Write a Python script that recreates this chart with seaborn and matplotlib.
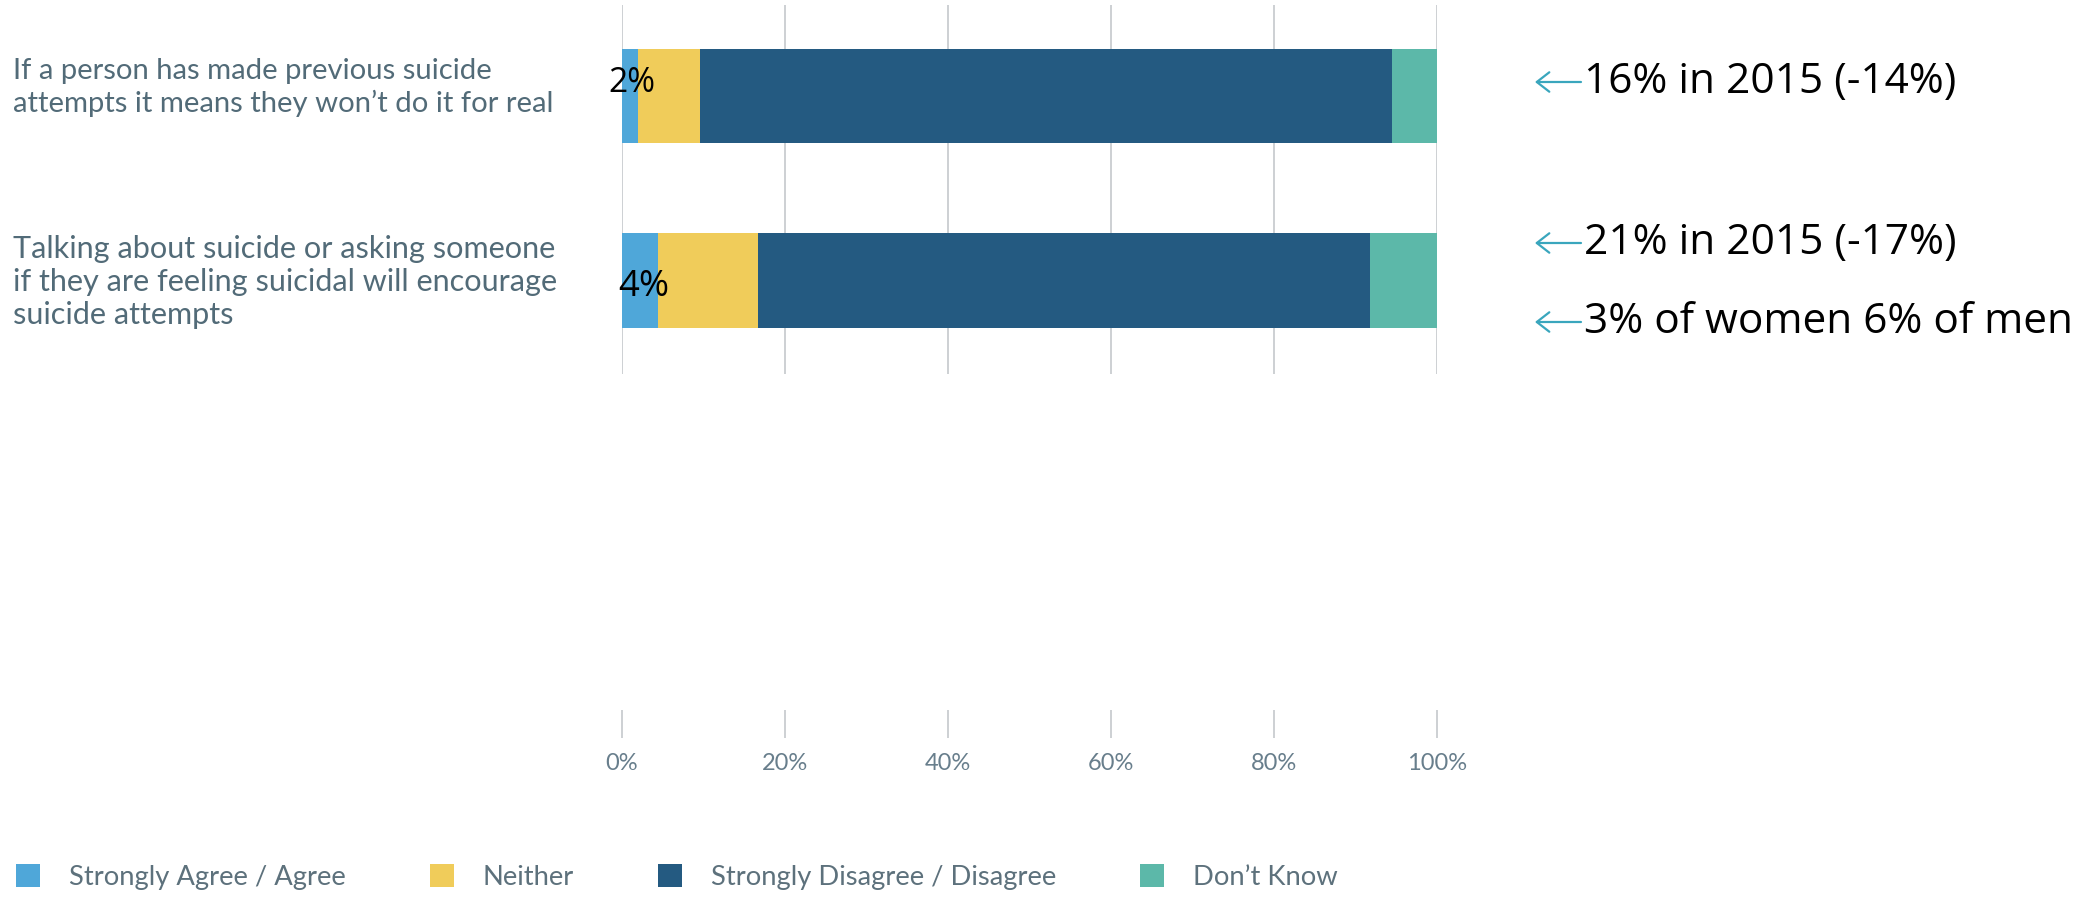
import matplotlib
matplotlib.use("Agg")
import matplotlib.pyplot as plt
import matplotlib.transforms as mtransforms
from matplotlib.patches import Patch, ArrowStyle
import numpy as np
import pandas as pd
import seaborn as sns

# ---------------- data ----------------
question_keys = ["Q1", "Q2"]
questions = [
    "If a person has made previous suicide\nattempts it means they won\u2019t do it for real",
    "Talking about suicide or asking someone\nif they are feeling suicidal will encourage\nsuicide attempts",
]
categories = ["Strongly Agree / Agree", "Neither", "Strongly Disagree / Disagree", "Don\u2019t Know"]
agree = [2.0, 4.4]
neither = [7.6, 12.3]
disagree = [84.9, 75.1]
dont_know = [5.5, 8.2]
bar_labels = ["2%", "4%"]
xticks = [0, 20, 40, 60, 80, 100]
xtick_labels = ["0%", "20%", "40%", "60%", "80%", "100%"]
notes = ["16% in 2015 (-14%)", "21% in 2015 (-17%)", "3% of women 6% of men"]
note_rows = [0, 1, 1]
colors = ["#4fa7d9", "#f0cc5a", "#245a81", "#5cb8a9"]

# ---------------- style ----------------
W, H = 2080, 898
sns.set_theme(style="white")
plt.rcParams['font.family'] = ['Lato', 'DejaVu Sans']

fig = plt.figure(figsize=(W / 100, H / 100), dpi=100)
fig.patch.set_facecolor("white")


def fx(px):
    return px / W


def fy(py):
    return 1 - py / H


ax_l, ax_r, ax_t, ax_b = 622, 1437, 5, 738
ax = fig.add_axes([fx(ax_l), fy(ax_b), (ax_r - ax_l) / W, (ax_b - ax_t) / H])

renderer = fig.canvas.get_renderer()


def fit(t, target_w):
    w = t.get_window_extent(renderer).width
    t.set_fontsize(t.get_fontsize() * target_w / w)
    return t.get_fontsize()


# stacked bars via cumulative totals drawn largest first
segments = np.array([agree, neither, disagree, dont_know])
cum = np.cumsum(segments, axis=0)
bar_w = 95 / 184
for i in range(len(categories) - 1, -1, -1):
    sns.barplot(x=cum[i], y=question_keys, orient="h", color=colors[i],
                saturation=1, width=bar_w, linewidth=0, errorbar=None,
                ax=ax, zorder=2)

ax.set_xlim(0, 100)
ax.set_ylim(1 + (ax_b - 280) / 184, -(96 - ax_t) / 184)
ax.set_yticks([])
ax.set_ylabel("")
ax.set_xlabel("")
for s in ax.spines.values():
    s.set_visible(False)

grid_col = "#c9cdd0"
ax.vlines(xticks, (ax_b - 374) / (ax_b - ax_t), 1, transform=ax.get_xaxis_transform(),
          colors=grid_col, lw=1.3, zorder=0.5)
ax.set_xticks(xticks, xtick_labels)
ax.tick_params(axis="x", bottom=True, direction="in", length=28 * 0.72, width=1.3,
               color=grid_col, pad=11, labelsize=17, labelcolor="#687e8c")
ax.grid(False)

# bar value labels
lab_offsets = [(-14, 13), (-4, -7)]
for i, (lab, (dx, dy)) in enumerate(zip(bar_labels, lab_offsets)):
    t = ax.annotate(lab, xy=(0, i), xytext=(dx * 0.72, dy * 0.72), textcoords="offset points",
                    ha="left", va="center", fontsize=28, color="black",
                    family=["Open Sans", "DejaVu Sans"], zorder=5)
    fit(t, 47 if i == 0 else 51)

# question labels
q_offsets = [8.5, -2]
q_widths = [542, 548]
for i, (q, dy) in enumerate(zip(questions, q_offsets)):
    tr = mtransforms.offset_copy(
        mtransforms.blended_transform_factory(fig.transFigure, ax.transData),
        fig=fig, y=dy, units="dots")
    t = ax.text(fx(13), i, q, transform=tr, ha="left", va="center", fontsize=16,
                color="#526b78", linespacing=1.22)
    fit(t, q_widths[i])

# right notes with arrows
n_offsets = [14, 37, -42]
fs_note = None
for k, (note, row, dy) in enumerate(zip(notes, note_rows, n_offsets)):
    tr = mtransforms.offset_copy(
        mtransforms.blended_transform_factory(fig.transFigure, ax.transData),
        fig=fig, y=dy, units="dots")
    t = ax.text(fx(1584), row, note, transform=tr, ha="left", va="center",
                fontsize=30, color="black", family=["Open Sans", "DejaVu Sans"],
                clip_on=False)
    if fs_note is None:
        fs_note = fit(t, 373)
    else:
        t.set_fontsize(fs_note)
    ax.annotate("", xy=(fx(1535), row), xycoords=tr, xytext=(fx(1581), row), textcoords=tr,
                arrowprops=dict(arrowstyle=ArrowStyle("->", head_length=0.45, head_width=0.35),
                                color="#3aa6bd", lw=1.6, shrinkA=0, shrinkB=0,
                                mutation_scale=20),
                annotation_clip=False)

# legend
tmp = fig.text(0, 0, categories[0], fontsize=16)
fs_leg = fit(tmp, 279)
tmp.remove()
fs_px = fs_leg * 100 / 72
handles = [Patch(facecolor=c, edgecolor="none") for c in colors]
leg = fig.legend(handles, categories, loc="center left", bbox_to_anchor=(fx(16), fy(877)),
                 ncol=4, frameon=False, fontsize=fs_leg, handlelength=24 / fs_px,
                 handleheight=24 / fs_px, handletextpad=29 / fs_px,
                 columnspacing=84 / fs_px, borderpad=0, borderaxespad=0,
                 labelcolor="#5d717c")

fig.savefig("out.png", dpi=100, facecolor="white")
